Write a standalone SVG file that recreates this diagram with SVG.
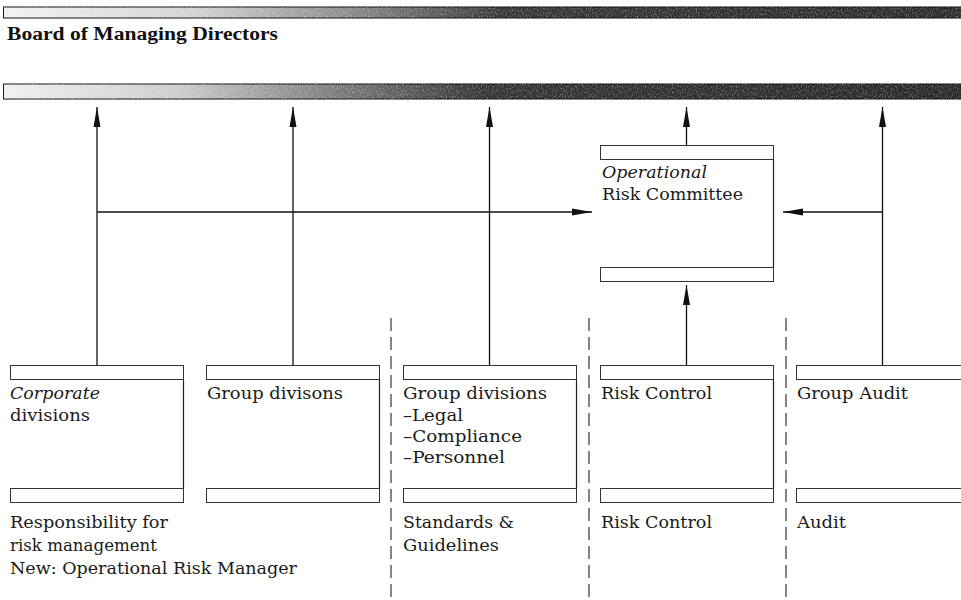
<svg xmlns="http://www.w3.org/2000/svg" width="961" height="600" viewBox="0 0 961 600">
  <defs>
    <linearGradient id="barTop" x1="0" y1="0" x2="1" y2="0">
      <stop offset="0" stop-color="#f2f2f2"/>
      <stop offset="0.2" stop-color="#d2d2d2"/>
      <stop offset="0.38" stop-color="#808080"/>
      <stop offset="0.52" stop-color="#363636"/>
      <stop offset="1" stop-color="#2a2a2a"/>
    </linearGradient>
    <linearGradient id="barMid" x1="0" y1="0" x2="1" y2="0">
      <stop offset="0" stop-color="#f0f0f0"/>
      <stop offset="0.18" stop-color="#cccccc"/>
      <stop offset="0.36" stop-color="#747474"/>
      <stop offset="0.5" stop-color="#343434"/>
      <stop offset="1" stop-color="#282828"/>
    </linearGradient>
    <!-- speckled print texture for the two bars -->
    <filter id="grain" x="0" y="0" width="100%" height="100%">
      <feTurbulence type="fractalNoise" baseFrequency="0.8 0.5" numOctaves="2" seed="7" result="noise"/>
      <feColorMatrix in="noise" type="matrix" values="0 0 0 0 1  0 0 0 0 1  0 0 0 0 1  3 0 0 0 -1.4" result="spots"/>
      <feComposite in="spots" in2="SourceAlpha" operator="in"/>
    </filter>
    <marker id="head" viewBox="0 0 20 8" refX="20" refY="4" markerWidth="20" markerHeight="8" markerUnits="userSpaceOnUse" orient="auto">
      <path d="M0,0.5 L20,4 L0,7.5 Z" fill="#111"/>
    </marker>
    <style>
      .lbl { font-family: "DejaVu Serif", "Liberation Serif", serif; font-size: 16.5px; fill: #1a1a1a; }
      .ital { font-style: italic; }
      .title { font-family: "Liberation Serif", "DejaVu Serif", serif; font-size: 18.5px; font-weight: bold; fill: #111; }
      .strip { fill: #fff; stroke: #333; stroke-width: 1; }
      .edge { stroke: #222; stroke-width: 1.2; fill: none; }
      .conn { stroke: #111; stroke-width: 1.3; fill: none; }
      .sep { stroke: #222; stroke-width: 1.1; stroke-dasharray: 13 6; fill: none; }
      .bar { stroke: #111; stroke-width: 1; }
    </style>
  </defs>

  <rect width="961" height="600" fill="#fff"/>

  <!-- board header -->
  <g id="board">
    <rect class="bar" x="3.5" y="7" width="962" height="11" fill="url(#barTop)"/>
    <rect x="3.5" y="7" width="962" height="11" fill="#000" filter="url(#grain)" opacity="0.35"/>
    <text class="title" x="7" y="40" textLength="271" lengthAdjust="spacingAndGlyphs">Board of Managing Directors</text>
    <rect class="bar" x="3.5" y="84" width="962" height="15" fill="url(#barMid)"/>
    <rect x="3.5" y="84" width="962" height="15" fill="#000" filter="url(#grain)" opacity="0.35"/>
  </g>

  <!-- column separators -->
  <g id="separators">
    <line class="sep" x1="391" y1="318" x2="391" y2="600"/>
    <line class="sep" x1="589" y1="318" x2="589" y2="600"/>
    <line class="sep" x1="786" y1="318" x2="786" y2="600"/>
  </g>

  <!-- connectors -->
  <g id="connectors">
    <line class="conn" x1="97" y1="365" x2="97" y2="107" marker-end="url(#head)"/>
    <line class="conn" x1="293" y1="365" x2="293" y2="107" marker-end="url(#head)"/>
    <line class="conn" x1="489.5" y1="365" x2="489.5" y2="107" marker-end="url(#head)"/>
    <line class="conn" x1="686.5" y1="145" x2="686.5" y2="107" marker-end="url(#head)"/>
    <line class="conn" x1="882.5" y1="365" x2="882.5" y2="107" marker-end="url(#head)"/>
    <line class="conn" x1="97" y1="212" x2="592" y2="212" marker-end="url(#head)"/>
    <line class="conn" x1="882.5" y1="212" x2="783" y2="212" marker-end="url(#head)"/>
    <line class="conn" x1="686.5" y1="365" x2="686.5" y2="285" marker-end="url(#head)"/>
  </g>

  <!-- committee -->
  <g id="committee">
    <rect class="strip" x="600.5" y="145.5" width="173" height="14"/>
    <line class="edge" x1="773.5" y1="159.5" x2="773.5" y2="267.5"/>
    <rect class="strip" x="600.5" y="267.5" width="173" height="14"/>
    <text class="lbl ital" x="602" y="178" textLength="105" lengthAdjust="spacingAndGlyphs">Operational</text>
    <text class="lbl" x="602" y="200" textLength="141" lengthAdjust="spacingAndGlyphs">Risk Committee</text>
  </g>

  <!-- corporate divisions -->
  <g id="corporate">
    <rect class="strip" x="10.5" y="365.5" width="173" height="14"/>
    <line class="edge" x1="183.5" y1="379.5" x2="183.5" y2="488.5"/>
    <rect class="strip" x="10.5" y="488.5" width="173" height="14"/>
    <text class="lbl ital" x="10" y="399" textLength="90" lengthAdjust="spacingAndGlyphs">Corporate</text>
    <text class="lbl" x="10" y="421" textLength="80" lengthAdjust="spacingAndGlyphs">divisions</text>
    <text class="lbl" x="10" y="528" textLength="158" lengthAdjust="spacingAndGlyphs">Responsibility for</text>
    <text class="lbl" x="10" y="551" textLength="147" lengthAdjust="spacingAndGlyphs">risk management</text>
    <text class="lbl" x="10" y="574" textLength="287" lengthAdjust="spacingAndGlyphs">New: Operational Risk Manager</text>
  </g>

  <!-- group divisions -->
  <g id="group-divisions">
    <rect class="strip" x="206.5" y="365.5" width="173" height="14"/>
    <line class="edge" x1="379.5" y1="379.5" x2="379.5" y2="488.5"/>
    <rect class="strip" x="206.5" y="488.5" width="173" height="14"/>
    <text class="lbl" x="207" y="399" textLength="136" lengthAdjust="spacingAndGlyphs">Group divisons</text>
  </g>

  <!-- group divisions: legal, compliance, personnel -->
  <g id="group-functions">
    <rect class="strip" x="403.5" y="365.5" width="173" height="14"/>
    <line class="edge" x1="576.5" y1="379.5" x2="576.5" y2="488.5"/>
    <rect class="strip" x="403.5" y="488.5" width="173" height="14"/>
    <text class="lbl" x="403" y="399" textLength="144" lengthAdjust="spacingAndGlyphs">Group divisions</text>
    <text class="lbl" x="403" y="421" textLength="60" lengthAdjust="spacingAndGlyphs">–Legal</text>
    <text class="lbl" x="403" y="442" textLength="119" lengthAdjust="spacingAndGlyphs">–Compliance</text>
    <text class="lbl" x="403" y="463" textLength="102" lengthAdjust="spacingAndGlyphs">–Personnel</text>
    <text class="lbl" x="403" y="528" textLength="111" lengthAdjust="spacingAndGlyphs">Standards &amp;</text>
    <text class="lbl" x="403" y="551" textLength="96" lengthAdjust="spacingAndGlyphs">Guidelines</text>
  </g>

  <!-- risk control -->
  <g id="risk-control">
    <rect class="strip" x="600.5" y="365.5" width="173" height="14"/>
    <line class="edge" x1="773.5" y1="379.5" x2="773.5" y2="488.5"/>
    <rect class="strip" x="600.5" y="488.5" width="173" height="14"/>
    <text class="lbl" x="601" y="399" textLength="111" lengthAdjust="spacingAndGlyphs">Risk Control</text>
    <text class="lbl" x="601" y="528" textLength="111" lengthAdjust="spacingAndGlyphs">Risk Control</text>
  </g>

  <!-- group audit -->
  <g id="group-audit">
    <rect class="strip" x="796.5" y="365.5" width="173" height="14"/>
    <rect class="strip" x="796.5" y="488.5" width="173" height="14"/>
    <text class="lbl" x="797" y="399" textLength="111" lengthAdjust="spacingAndGlyphs">Group Audit</text>
    <text class="lbl" x="797" y="528" textLength="49" lengthAdjust="spacingAndGlyphs">Audit</text>
  </g>
</svg>
